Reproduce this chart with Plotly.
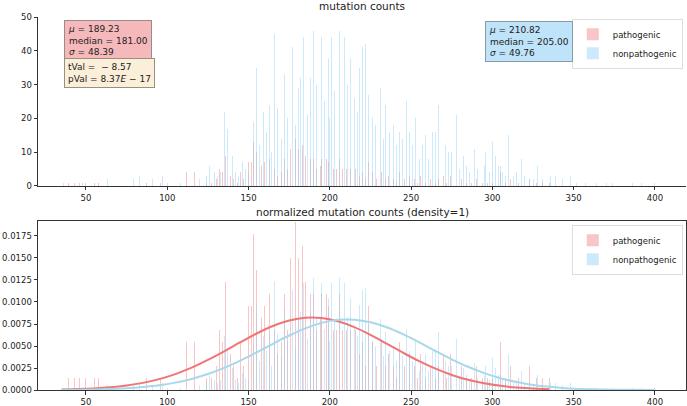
import numpy as np
import plotly.graph_objects as go
from plotly.subplots import make_subplots

# histogram bins (bin centre -> count)
path_x = [39, 43, 46, 50, 55, 58, 87, 96, 106, 112, 117, 124, 127, 130, 132, 134, 136, 139, 141, 143,
          145, 147, 150, 152, 153, 155, 158, 160, 163, 166, 168, 170, 172, 174, 176, 179, 181, 183, 185, 188,
          190, 192, 194, 195, 198, 199, 202, 204, 206, 208, 210, 213, 216, 218, 220, 222, 224, 226, 229, 232,
          234, 236, 239, 241, 243, 246, 249, 252, 254, 256, 259, 262, 265, 267, 270, 272, 274, 277, 281, 284,
          287, 290, 294, 297, 300, 305, 308, 311, 316, 323, 327, 331, 335]
path_n = [1, 1, 1, 1, 1, 1, 1, 1, 4, 4, 4, 1, 1, 2, 5, 4, 9, 3, 2, 1,
          4, 2, 7, 7, 13, 10, 6, 7, 8, 5, 3, 4, 8, 5, 11, 14, 11, 12, 9, 8,
          8, 5, 6, 8, 8, 7, 5, 5, 8, 5, 5, 5, 5, 3, 4, 2, 7, 4, 2, 4,
          2, 3, 2, 1, 4, 2, 3, 2, 1, 3, 1, 2, 1, 2, 3, 1, 3, 1, 2, 1,
          1, 2, 1, 1, 1, 4, 1, 2, 1, 2, 1, 1, 1]

nonpath_x = [36, 48, 63, 79, 83, 91, 97, 100, 106, 108, 120, 124, 126, 129, 131, 133, 135, 137, 140, 142,
             144, 146, 148, 150, 153, 155, 157, 159, 161, 163, 164, 166, 168, 170, 172, 174, 177, 179, 181, 182,
             184, 186, 188, 190, 192, 195, 197, 199, 200, 201, 203, 206, 209, 211, 213, 215, 217, 218, 220, 222,
             224, 226, 228, 231, 233, 234, 237, 239, 241, 243, 245, 247, 249, 251, 253, 255, 257, 259, 261, 263,
             265, 267, 269, 271, 273, 275, 278, 280, 282, 284, 286, 289, 291, 293, 295, 296, 298, 300, 302, 304,
             305, 306, 308, 310, 313, 315, 318, 320, 323, 325, 328, 331, 336, 339, 343, 348, 352, 357, 364, 370,
             374, 386, 392, 400]
nonpath_n = [1, 1, 2, 2, 3, 2, 3, 1, 1, 1, 2, 3, 6, 4, 3, 4, 22, 17, 9, 4,
             3, 7, 5, 4, 19, 35, 12, 22, 16, 24, 10, 45, 23, 14, 33, 20, 41, 18, 29, 32,
             44, 21, 32, 46, 30, 44, 25, 38, 20, 44, 28, 46, 44, 30, 38, 26, 22, 35, 41, 42,
             27, 20, 18, 29, 14, 24, 16, 18, 12, 16, 14, 25, 16, 12, 20, 8, 12, 15, 8, 16,
             16, 24, 10, 12, 10, 10, 21, 5, 9, 6, 4, 11, 5, 3, 6, 10, 4, 13, 9, 6,
             6, 4, 3, 15, 3, 4, 8, 3, 2, 2, 6, 2, 3, 3, 2, 3, 1, 1, 1, 1,
             1, 1, 1, 1]

bin_width = 2.0

# fitted normal curves
path_curve_x = [35, 45, 55, 65, 75, 85, 95, 105, 115, 125, 135, 145, 155, 165, 175, 185,
                195, 205, 215, 225, 235, 245, 255, 265, 275, 285, 295, 305, 315, 325, 335]
path_curve_y = [0.00005, 0.00010, 0.00018, 0.00031, 0.00051, 0.00081, 0.00124, 0.00181, 0.00254,
                0.00342, 0.00440, 0.00543, 0.00642, 0.00727, 0.00789, 0.00821, 0.00818, 0.00781,
                0.00715, 0.00627, 0.00527, 0.00424, 0.00327, 0.00242, 0.00171, 0.00116, 0.00076,
                0.00047, 0.00028, 0.00016, 0.00009]
nonpath_curve_x = [35, 45, 55, 65, 75, 85, 95, 105, 115, 125, 135, 145, 155, 165, 175, 185, 195,
                   205, 215, 225, 235, 245, 255, 265, 275, 285, 295, 305, 315, 325, 335, 345, 355,
                   365, 375, 385, 400]
nonpath_curve_y = [0.00002, 0.00003, 0.00006, 0.00011, 0.00019, 0.00033, 0.00053, 0.00084, 0.00126,
                   0.00181, 0.00251, 0.00334, 0.00428, 0.00525, 0.00619, 0.00701, 0.00763, 0.00797,
                   0.00799, 0.00770, 0.00713, 0.00634, 0.00541, 0.00443, 0.00349, 0.00264, 0.00192,
                   0.00134, 0.00090, 0.00058, 0.00036, 0.00021, 0.00012, 0.00007, 0.00003, 0.00002,
                   0.00001]

path_stats = "<i>μ</i> = 189.23<br>median = 181.00<br><i>σ</i> = 48.39"
nonpath_stats = "<i>μ</i> = 210.82<br>median = 205.00<br><i>σ</i> = 49.76"
test_stats = "tVal =  − 8.57<br>pVal = 8.37<i>E</i> − 17"

RED_BAR = "rgba(240,128,128,0.45)"
BLUE_BAR = "rgba(135,206,250,0.42)"
RED_LINE = "#f07575"
BLUE_LINE = "#a8d8ea"
FONT = "DejaVu Sans"
BAR_W = 0.6

path_density = np.array(path_n) / (sum(path_n) * bin_width)
nonpath_density = np.array(nonpath_n) / (sum(nonpath_n) * bin_width)

fig = make_subplots(rows=2, cols=1)

fig.add_trace(go.Bar(x=path_x, y=path_n, width=BAR_W, marker=dict(color=RED_BAR, line_width=0),
                     name="pathogenic", legend="legend"), row=1, col=1)
fig.add_trace(go.Bar(x=nonpath_x, y=nonpath_n, width=BAR_W, marker=dict(color=BLUE_BAR, line_width=0),
                     name="nonpathogenic", legend="legend"), row=1, col=1)
fig.add_trace(go.Bar(x=path_x, y=path_density, width=BAR_W, marker=dict(color=RED_BAR, line_width=0),
                     name="pathogenic", legend="legend2"), row=2, col=1)
fig.add_trace(go.Bar(x=nonpath_x, y=nonpath_density, width=BAR_W, marker=dict(color=BLUE_BAR, line_width=0),
                     name="nonpathogenic", legend="legend2"), row=2, col=1)
fig.add_trace(go.Scatter(x=path_curve_x, y=path_curve_y, mode="lines", line=dict(color=RED_LINE, width=2, shape="spline"),
                         showlegend=False), row=2, col=1)
fig.add_trace(go.Scatter(x=nonpath_curve_x, y=nonpath_curve_y, mode="lines", line=dict(color=BLUE_LINE, width=2, shape="spline"),
                         showlegend=False), row=2, col=1)

axis_common = dict(showgrid=False, zeroline=False, automargin=False, linecolor="#333333", linewidth=1,
                   ticks="outside", ticklen=3.5, tickcolor="#333333", tickfont=dict(size=8.5, color="#222222"))

fig.update_xaxes(range=[20.5, 419.1], tickvals=[50, 100, 150, 200, 250, 300, 350, 400], **axis_common)
fig.update_xaxes(mirror=False, row=1, col=1)
fig.update_xaxes(mirror=True, row=2, col=1)
fig.update_yaxes(range=[0, 50], dtick=10, domain=[0.547, 1], row=1, col=1, **axis_common)
fig.update_yaxes(range=[0, 0.0192], tickvals=[0, 0.0025, 0.005, 0.0075, 0.01, 0.0125, 0.015, 0.0175],
                 tickformat=".4f", domain=[0, 0.453], mirror=True, row=2, col=1, **axis_common)

box = dict(xref="x domain", yref="y domain", xanchor="left", yanchor="top", align="left", showarrow=False,
           borderwidth=1, borderpad=3, font=dict(size=9, color="#222222", family=FONT))
fig.add_annotation(text=path_stats, x=0.04, y=0.985, bgcolor="#f6b9bb", bordercolor="#9a8a8a", **box)
fig.add_annotation(text=test_stats, x=0.04, y=0.755, bgcolor="#fbefd9", bordercolor="#9a9080", **box)
fig.add_annotation(text=nonpath_stats, x=0.69, y=0.978, bgcolor="#bfe3f8", bordercolor="#8a9aa8", **box)

fig.add_annotation(text="mutation counts", xref="paper", yref="paper", x=0.5, y=1.0, yshift=3,
                   xanchor="center", yanchor="bottom", showarrow=False, font=dict(size=10.5, color="#222222"))
fig.add_annotation(text="normalized mutation counts (density=1)", xref="paper", yref="paper", x=0.5, y=0.453,
                   yshift=1, xanchor="center", yanchor="bottom", showarrow=False, font=dict(size=10.5, color="#222222"))

legend_style = dict(xanchor="right", yanchor="top", bgcolor="white", bordercolor="#dddddd", borderwidth=1,
                    font=dict(size=8.5, color="#222222"), tracegroupgap=0, itemwidth=30)
fig.update_layout(
    width=687, height=406,
    margin=dict(l=38, r=1, t=17, b=16),
    barmode="overlay", bargap=0,
    paper_bgcolor="white", plot_bgcolor="white",
    font=dict(family=FONT, size=9, color="#222222"),
    legend=dict(x=0.995, y=0.995, **legend_style),
    legend2=dict(x=0.995, y=0.443, **legend_style),
)

# drop the page's default body margin so the figure sits at the window origin
fig.write_html("out.html", config={"displayModeBar": False},
               post_script="document.body.style.margin='0';")
